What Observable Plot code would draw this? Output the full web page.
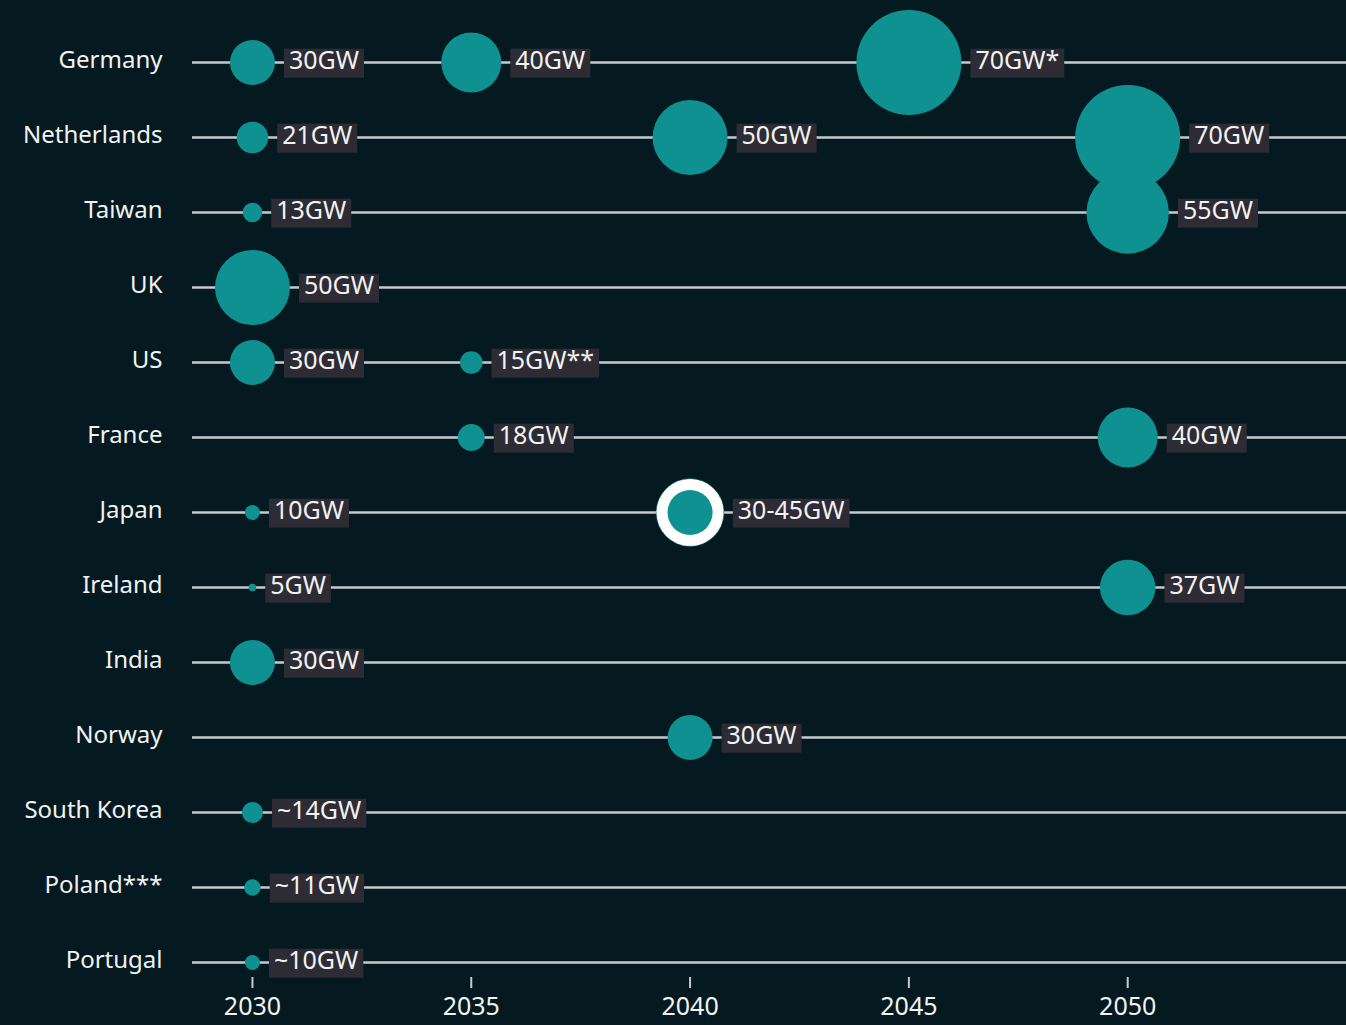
<!DOCTYPE html>
<html>
<head>
<meta charset="utf-8">
<script src="https://cdn.jsdelivr.net/npm/d3@7"></script>
<script src="https://cdn.jsdelivr.net/npm/@observablehq/plot@0.6"></script>
<style>
  html, body { margin: 0; padding: 0; background: #041a20; }
  #chart { width: 1346px; height: 1025px; overflow: hidden; }
</style>
</head>
<body>
<div id="chart"></div>
<script>
const countries = ["Germany", "Netherlands", "Taiwan", "UK", "US", "France", "Japan", "Ireland", "India", "Norway", "South Korea", "Poland***", "Portugal"];
const yearTicks = [2030, 2035, 2040, 2045, 2050];

const targetCountry = ["Germany", "Germany", "Germany", "Netherlands", "Netherlands", "Netherlands", "Taiwan", "Taiwan", "UK", "US", "US", "France", "France", "Japan", "Japan", "Ireland", "Ireland", "India", "Norway", "South Korea", "Poland***", "Portugal"];
const targetYear = [2030, 2035, 2045, 2030, 2040, 2050, 2030, 2050, 2030, 2030, 2035, 2035, 2050, 2030, 2040, 2030, 2050, 2030, 2040, 2030, 2030, 2030];
const targetGW = [30, 40, 70, 21, 50, 70, 13, 55, 50, 30, 15, 18, 40, 10, 30, 5, 37, 30, 30, 14, 11, 10];
const targetUpperGW = [null, null, null, null, null, null, null, null, null, null, null, null, null, null, 45, null, null, null, null, null, null, null];
const targetLabel = ["30GW", "40GW", "70GW*", "21GW", "50GW", "70GW", "13GW", "55GW", "50GW", "30GW", "15GW**", "18GW", "40GW", "10GW", "30-45GW", "5GW", "37GW", "30GW", "30GW", "~14GW", "~11GW", "~10GW"];

const targets = targetCountry.map((c, i) => ({
  country: c, year: targetYear[i], gw: targetGW[i], upper: targetUpperGW[i], label: targetLabel[i],
  outer: targetUpperGW[i] ?? targetGW[i]
}));
const ranges = targets.filter(d => d.upper != null);

const teal = "#109191";
const lineColor = "#c6cacf";
const boxColor = "#2d2b34";
const textColor = "#f2f2f2";
const font = "'Noto Sans', sans-serif";

const xMin = 2028.63, xMax = 2055;

const plot = Plot.plot({
  width: 1346,
  height: 1025,
  marginLeft: 192,
  marginRight: 0,
  marginTop: 0,
  marginBottom: 48,
  style: { background: "#041a20", color: textColor, fontFamily: font, overflow: "visible" },
  x: { domain: [xMin, xMax] },
  y: { type: "point", domain: countries, range: [61, 963], padding: 0 },
  r: { type: "linear", domain: [0, 70], range: [0, 52.5] },
  marks: [
    Plot.ruleY(countries, { y: d => d, x1: xMin, x2: xMax, stroke: lineColor, strokeWidth: 2.5 }),
    Plot.dot(ranges, { x: "year", y: "country", r: "upper", fill: "#ffffff", stroke: teal, strokeWidth: 1, strokeDasharray: "1.5 1.5" }),
    Plot.dot(targets, { x: "year", y: "country", r: "gw", fill: teal, stroke: "none" }),
    Plot.text(targets, {
      x: "year", y: "country", text: "label",
      textAnchor: "start", fontSize: 25, fill: textColor, dy: -2,
      className: "gwlabel",
      render(index, scales, values, dimensions, context, next) {
        const X = Float64Array.from(values.x, (x, i) => x + scales.r(targets[i].outer) + 14);
        return next(index, scales, { ...values, x: X }, dimensions, context);
      }
    }),
    Plot.axisY({ tickSize: 0, tickPadding: 30, fontSize: 24, label: null, dy: -2 }),
    Plot.axisX({ ticks: yearTicks, tickFormat: d => String(d), tickSize: 11, tickPadding: 9, fontSize: 25, label: null, stroke: lineColor, strokeWidth: 2 })
  ]
});

document.getElementById("chart").appendChild(plot);

// draw label boxes behind the value labels
document.querySelectorAll("g.gwlabel text").forEach(t => {
  const bb = t.getBBox();
  const ns = "http://www.w3.org/2000/svg";
  const rect = document.createElementNS(ns, "rect");
  const tr = t.getAttribute("transform");
  if (tr) rect.setAttribute("transform", tr);
  const cy = bb.y + bb.height / 2 + 1.7 + 2 + 1; // undo dy and center on the line
  rect.setAttribute("x", bb.x - 5);
  rect.setAttribute("y", cy - 14.5);
  rect.setAttribute("width", bb.width + 10);
  rect.setAttribute("height", 29);
  rect.setAttribute("fill", boxColor);
  t.parentNode.insertBefore(rect, t);
});
</script>
</body>
</html>
